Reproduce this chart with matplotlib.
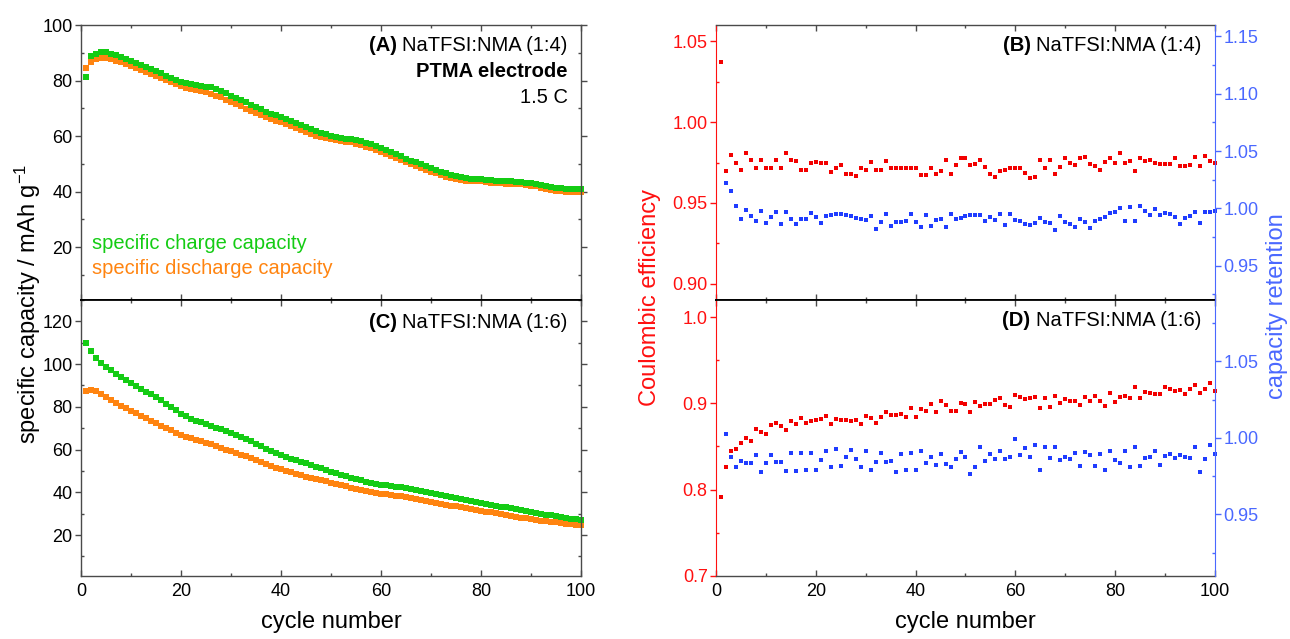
import matplotlib
matplotlib.use("Agg")
import matplotlib.pyplot as plt
from matplotlib.ticker import MultipleLocator, FormatStrFormatter

plt.rcParams['font.family'] = ['Liberation Sans', 'DejaVu Sans']
plt.rcParams['mathtext.fontset'] = 'custom'
plt.rcParams['mathtext.rm'] = 'Liberation Sans'
plt.rcParams['mathtext.it'] = 'Liberation Sans:italic'
plt.rcParams['mathtext.bf'] = 'Liberation Sans:bold'

# ---------------------------------------------------------------- data
cycles = list(range(1, 101))
ret_cycles = list(range(2, 101))

# (A) NaTFSI:NMA (1:4) specific capacity, mAh/g
a_charge = [81.4, 89.0, 89.4, 90.1, 90.1, 89.6, 89.2, 88.6, 87.9, 87.1,
            86.4, 85.7, 84.9, 84.1, 83.4, 82.6, 81.8, 81.0, 80.2, 79.5,
            79.0, 78.7, 78.4, 78.1, 77.8, 77.5, 77.0, 76.3, 75.5, 74.6,
            73.8, 72.9, 72.1, 71.3, 70.4, 69.6, 68.8, 68.1, 67.5, 66.9,
            66.2, 65.5, 64.8, 64.1, 63.4, 62.6, 61.9, 61.2, 60.6, 60.1,
            59.7, 59.4, 59.1, 58.8, 58.5, 58.1, 57.6, 57.0, 56.3, 55.7,
            55.0, 54.3, 53.5, 52.7, 51.9, 51.2, 50.5, 49.8, 49.1, 48.4,
            47.8, 47.2, 46.6, 46.1, 45.6, 45.2, 44.9, 44.7, 44.5, 44.4,
            44.3, 44.2, 44.0, 43.9, 43.8, 43.7, 43.6, 43.5, 43.3, 43.1,
            42.8, 42.5, 42.1, 41.8, 41.5, 41.3, 41.1, 41.0, 40.9, 40.9]
a_discharge = [84.4, 86.6, 87.6, 88.0, 88.0, 87.6, 87.2, 86.6, 86.0, 85.3,
               84.6, 83.9, 83.2, 82.5, 81.8, 81.0, 80.2, 79.4, 78.6, 77.9,
               77.3, 76.9, 76.5, 76.1, 75.7, 75.2, 74.6, 73.9, 73.1, 72.3,
               71.5, 70.7, 69.9, 69.1, 68.3, 67.5, 66.8, 66.2, 65.6, 65.0,
               64.3, 63.6, 62.9, 62.2, 61.5, 60.8, 60.2, 59.7, 59.3, 58.9,
               58.6, 58.3, 58.0, 57.7, 57.3, 56.8, 56.2, 55.6, 55.0, 54.4,
               53.7, 53.0, 52.2, 51.4, 50.6, 49.9, 49.2, 48.5, 47.8, 47.2,
               46.6, 46.0, 45.4, 44.9, 44.5, 44.2, 44.0, 43.9, 43.8, 43.7,
               43.5, 43.3, 43.1, 43.0, 42.9, 42.8, 42.7, 42.6, 42.4, 42.2,
               41.9, 41.5, 41.1, 40.7, 40.4, 40.2, 40.0, 39.9, 39.8, 39.7]

# (C) NaTFSI:NMA (1:6) specific capacity, mAh/g
c_charge = [110.1, 106.1, 102.8, 100.5, 98.7, 97.1, 95.6, 94.1, 92.6, 91.0,
            89.6, 88.3, 87.0, 85.8, 84.5, 83.0, 81.4, 79.8, 78.3, 76.8,
            75.5, 74.4, 73.5, 72.7, 71.9, 71.1, 70.3, 69.6, 68.8, 67.9,
            66.9, 65.9, 64.9, 63.9, 62.8, 61.6, 60.4, 59.3, 58.3, 57.4,
            56.6, 55.8, 55.0, 54.3, 53.6, 52.8, 52.0, 51.2, 50.4, 49.7,
            49.0, 48.3, 47.6, 46.9, 46.2, 45.6, 45.0, 44.5, 44.0, 43.6,
            43.3, 43.0, 42.7, 42.3, 41.9, 41.4, 41.0, 40.5, 40.0, 39.6,
            39.2, 38.7, 38.2, 37.7, 37.2, 36.8, 36.3, 35.8, 35.3, 34.9,
            34.5, 34.1, 33.7, 33.3, 33.0, 32.6, 32.2, 31.8, 31.4, 31.0,
            30.5, 30.1, 29.6, 29.2, 28.8, 28.4, 28.0, 27.6, 27.3, 27.0]
c_discharge = [87.4, 87.7, 87.2, 85.9, 84.5, 83.2, 81.9, 80.6, 79.4, 78.2,
               77.0, 75.8, 74.6, 73.4, 72.3, 71.2, 70.1, 69.0, 67.9, 66.9,
               66.0, 65.2, 64.5, 63.8, 63.1, 62.4, 61.6, 60.8, 60.0, 59.2,
               58.4, 57.6, 56.8, 56.0, 55.1, 54.2, 53.3, 52.4, 51.5, 50.7,
               50.0, 49.3, 48.7, 48.1, 47.4, 46.8, 46.2, 45.6, 45.1, 44.6,
               44.0, 43.4, 42.8, 42.2, 41.6, 41.0, 40.5, 40.0, 39.6, 39.3,
               39.1, 38.8, 38.5, 38.1, 37.7, 37.3, 36.9, 36.5, 36.0, 35.5,
               35.1, 34.7, 34.2, 33.8, 33.4, 33.0, 32.6, 32.2, 31.8, 31.4,
               31.0, 30.6, 30.2, 29.8, 29.4, 29.0, 28.6, 28.2, 27.8, 27.4,
               27.1, 26.8, 26.5, 26.2, 25.9, 25.6, 25.3, 25.0, 24.8, 24.6]

# (B) NaTFSI:NMA (1:4) Coulombic efficiency and capacity retention
b_ce = [1.037, 0.970, 0.9795, 0.9747, 0.9706, 0.9809, 0.9768, 0.9719, 0.9768, 0.9719,
        0.9719, 0.9764, 0.9719, 0.9809, 0.9764, 0.9758, 0.9706, 0.9706, 0.9747, 0.9754,
        0.9749, 0.9749, 0.9692, 0.9713, 0.9733, 0.9682, 0.9678, 0.9668, 0.9713, 0.9706,
        0.9754, 0.9706, 0.9706, 0.9760, 0.9713, 0.9713, 0.9713, 0.9717, 0.9713, 0.9719,
        0.9671, 0.9671, 0.9719, 0.9678, 0.9698, 0.9764, 0.9678, 0.9733, 0.9780, 0.9780,
        0.9733, 0.9743, 0.9768, 0.9723, 0.9682, 0.9661, 0.9698, 0.9706, 0.9713, 0.9717,
        0.9713, 0.9686, 0.9657, 0.9661, 0.9764, 0.9713, 0.9764, 0.9678, 0.9723, 0.9776,
        0.9747, 0.9733, 0.9780, 0.9784, 0.9739, 0.9729, 0.9706, 0.9754, 0.9776, 0.9747,
        0.9809, 0.9747, 0.9760, 0.9696, 0.9776, 0.9760, 0.9768, 0.9747, 0.9743, 0.9743,
        0.9743, 0.9780, 0.9729, 0.9729, 0.9733, 0.9784, 0.9729, 0.9788, 0.9760, 0.9747]
b_ret = [1.022, 1.0148, 1.002, 0.991, 0.9988, 0.993, 0.9887, 0.9974, 0.9872,
         0.9925, 0.9968, 0.9867, 0.9968, 0.991, 0.9867, 0.991, 0.991, 0.9959, 0.9925,
         0.9875, 0.993, 0.9945, 0.9948, 0.9948, 0.9942, 0.993, 0.9919, 0.991, 0.9896,
         0.9933, 0.9823, 0.9881, 0.9954, 0.9843, 0.9881, 0.9881, 0.989, 0.9954, 0.9881,
         0.9838, 0.9939, 0.9843, 0.9896, 0.9904, 0.9838, 0.9954, 0.991, 0.9916, 0.993,
         0.9939, 0.9945, 0.9939, 0.989, 0.9925, 0.9896, 0.9954, 0.9858, 0.9948, 0.9896,
         0.9887, 0.9861, 0.9852, 0.9872, 0.9916, 0.9881, 0.9872, 0.9809, 0.993, 0.9881,
         0.9867, 0.9838, 0.991, 0.9881, 0.9829, 0.989, 0.991, 0.9925, 0.9959, 0.9968,
         1.0006, 0.989, 1.0012, 0.989, 1.002, 0.9977, 0.9939, 0.9997, 0.9945, 0.9959,
         0.9954, 0.9925, 0.9867, 0.9919, 0.993, 0.9968, 0.9872, 0.9968, 0.9968, 0.9974]

# (D) NaTFSI:NMA (1:6) Coulombic efficiency and capacity retention
d_ce = [0.7915, 0.8262, 0.8442, 0.8469, 0.8546, 0.8596, 0.8569, 0.870, 0.8673, 0.8646,
        0.875, 0.8769, 0.8738, 0.8692, 0.880, 0.8762, 0.8827, 0.8777, 0.880, 0.8808,
        0.8815, 0.8854, 0.8762, 0.8815, 0.8808, 0.8808, 0.880, 0.8808, 0.8758, 0.8854,
        0.8827, 0.8777, 0.8838, 0.8896, 0.8865, 0.8865, 0.8877, 0.8838, 0.8942, 0.8846,
        0.8931, 0.8908, 0.8992, 0.8904, 0.9027, 0.8981, 0.8915, 0.8915, 0.9008, 0.8992,
        0.8904, 0.9019, 0.8969, 0.8988, 0.8992, 0.9038, 0.9058, 0.8981, 0.8962, 0.9096,
        0.9077, 0.905, 0.9058, 0.9069, 0.8942, 0.9058, 0.8962, 0.9085, 0.9008, 0.9046,
        0.9027, 0.9031, 0.8981, 0.9077, 0.9027, 0.9085, 0.9027, 0.8969, 0.9123, 0.9019,
        0.9069, 0.9085, 0.9058, 0.9185, 0.9058, 0.9135, 0.9123, 0.9108, 0.9108, 0.9192,
        0.9162, 0.9146, 0.9154, 0.9108, 0.9162, 0.9212, 0.9123, 0.9162, 0.9231, 0.9146]
d_ret = [1.0026, 0.9875, 0.9807, 0.9846, 0.9835, 0.9835, 0.989, 0.9776, 0.9835,
         0.989, 0.984, 0.984, 0.9785, 0.9899, 0.9785, 0.9899, 0.9789, 0.9903, 0.9791,
         0.9857, 0.9916, 0.9811, 0.9925, 0.9815, 0.9873, 0.9921, 0.9864, 0.9807, 0.9912,
         0.9789, 0.9842, 0.9899, 0.9842, 0.9846, 0.9774, 0.9895, 0.9793, 0.9899, 0.9789,
         0.9916, 0.9837, 0.9875, 0.9824, 0.9895, 0.9831, 0.9811, 0.986, 0.9908, 0.9877,
         0.9763, 0.9811, 0.9943, 0.9851, 0.9895, 0.986, 0.9916, 0.9864, 0.9877, 0.9991,
         0.9886, 0.9934, 0.9877, 0.9952, 0.9789, 0.9941, 0.9868, 0.9943, 0.9855, 0.9877,
         0.986, 0.9899, 0.9815, 0.9908, 0.989, 0.9815, 0.9895, 0.9793, 0.9912, 0.9857,
         0.9833, 0.9912, 0.9811, 0.9943, 0.9815, 0.9868, 0.9873, 0.9912, 0.982, 0.9879,
         0.9895, 0.9868, 0.989, 0.9877, 0.9868, 0.9943, 0.9776, 0.986, 0.9952, 0.9895]

# ---------------------------------------------------------------- style
GREEN = '#14cc14'
ORANGE = '#ff8410'
RED = '#f20000'
BLUE = '#1f3cff'
RED_AX = '#ff1010'
BLUE_AX = '#4a68ff'
SPINE = '#4a4a4a'
TICK_FS = 13
LABEL_FS = 17
NOTE_FS = 14.5

W, H = 1290, 639
fig = plt.figure(figsize=(W / 100, H / 100), dpi=100)


def box(x0, y0, x1, y1):
    return [x0 / W, 1 - y1 / H, (x1 - x0) / W, (y1 - y0) / H]


ax_a = fig.add_axes(box(81, 25, 581, 300))
ax_c = fig.add_axes(box(81, 300, 581, 575.7))
ax_b = fig.add_axes(box(716, 25, 1215, 300))
ax_d = fig.add_axes(box(716, 300, 1215, 575.7))
ax_b2 = ax_b.twinx()
ax_d2 = ax_d.twinx()


def style_x(ax, show_labels):
    ax.set_xlim(0, 100)
    ax.xaxis.set_major_locator(MultipleLocator(20))
    ax.xaxis.set_minor_locator(MultipleLocator(10))
    ax.tick_params(axis='x', which='major', direction='in', length=4, width=1,
                   top=True, bottom=True, color=SPINE, labelsize=TICK_FS, pad=5,
                   labelbottom=show_labels)
    ax.tick_params(axis='x', which='minor', direction='in', length=2.5, width=1,
                   top=True, bottom=True, color=SPINE)


def style_y(ax, side, color, label_color, major, minor, fmt=None):
    ax.yaxis.set_major_locator(MultipleLocator(major))
    ax.yaxis.set_minor_locator(MultipleLocator(minor))
    if fmt:
        ax.yaxis.set_major_formatter(FormatStrFormatter(fmt))
    left = side in ('left', 'both')
    right = side in ('right', 'both')
    ax.tick_params(axis='y', which='major', direction='out', length=4, width=1,
                   left=left, right=right, labelleft=left,
                   labelright=(side == 'right'), color=color,
                   labelcolor=label_color, labelsize=TICK_FS, pad=2)
    ax.tick_params(axis='y', which='minor', direction='in', length=2.5, width=1,
                   left=left, right=right, color=color)


for ax in (ax_a, ax_c):
    for s in ax.spines.values():
        s.set_color(SPINE)
        s.set_linewidth(1.0)

mk = dict(marker='s', linestyle='none', markeredgewidth=0, clip_on=False)

# (A)
ax_a.plot(cycles, a_discharge, color=ORANGE, markersize=3.8, **mk)
ax_a.plot(cycles, a_charge, color=GREEN, markersize=3.8, **mk)
ax_a.set_ylim(1, 100)
style_x(ax_a, False)
style_y(ax_a, 'both', SPINE, 'black', 20, 10)
ax_a.spines['bottom'].set_color('black')
ax_a.spines['bottom'].set_linewidth(1.3)

# (C)
ax_c.plot(cycles, c_discharge, color=ORANGE, markersize=3.8, **mk)
ax_c.plot(cycles, c_charge, color=GREEN, markersize=3.8, **mk)
ax_c.set_ylim(1, 130)
style_x(ax_c, True)
style_y(ax_c, 'both', SPINE, 'black', 20, 10)
ax_c.spines['top'].set_color('black')
ax_c.spines['top'].set_linewidth(1.3)
ax_c.set_xlabel('cycle number', fontsize=LABEL_FS, labelpad=8)


def style_pair(ax, ax2, sep_side):
    ax.spines['left'].set_color(RED_AX)
    ax.spines['right'].set_visible(False)
    for s in ('top', 'bottom'):
        ax.spines[s].set_color(SPINE)
        ax.spines[s].set_linewidth(1.0)
    ax.spines[sep_side].set_color('black')
    ax.spines[sep_side].set_linewidth(1.3)
    ax2.spines['right'].set_color(BLUE_AX)
    for s in ('left', 'top', 'bottom'):
        ax2.spines[s].set_visible(False)


# (B)
ax_b.plot(cycles, b_ce, color=RED, markersize=3.5, **mk)
ax_b2.plot(ret_cycles, b_ret, color=BLUE, markersize=3.5, **mk)
ax_b.set_ylim(0.89, 1.06)
ax_b2.set_ylim(0.92, 1.16)
style_x(ax_b, False)
style_y(ax_b, 'left', RED_AX, RED_AX, 0.05, 0.025, '%.2f')
style_y(ax_b2, 'right', BLUE_AX, BLUE_AX, 0.05, 0.025, '%.2f')
ax_b2.tick_params(axis='x', which='both', top=False, bottom=False)
style_pair(ax_b, ax_b2, 'bottom')

# (D)
ax_d.plot(cycles, d_ce, color=RED, markersize=3.5, **mk)
ax_d2.plot(ret_cycles, d_ret, color=BLUE, markersize=3.5, **mk)
ax_d.set_ylim(0.7, 1.02)
ax_d2.set_ylim(0.91, 1.09)
style_x(ax_d, True)
style_y(ax_d, 'left', RED_AX, RED_AX, 0.1, 0.05, '%.1f')
style_y(ax_d2, 'right', BLUE_AX, BLUE_AX, 0.05, 0.025, '%.2f')
style_pair(ax_d, ax_d2, 'top')
ax_d.set_xlabel('cycle number', fontsize=LABEL_FS, labelpad=8)
for ax in (ax_b2, ax_d2):
    ax.set_xlim(0, 100)

# ---------------------------------------------------------------- annotations


def panel_title(ax, y, tag, text):
    t = ax.text(0.973, y, text, transform=ax.transAxes, ha='right', va='center',
                fontsize=NOTE_FS, color='black', zorder=5)
    ax.annotate(tag, xy=(0, 0), xycoords=t, xytext=(-4, 0),
                textcoords='offset points', ha='right', va='bottom',
                fontsize=NOTE_FS, fontweight='bold', color='black', zorder=5)


panel_title(ax_a, 0.925, '(A)', 'NaTFSI:NMA (1:4)')
ax_a.text(0.973, 0.830, 'PTMA electrode', transform=ax_a.transAxes, ha='right',
          va='center', fontsize=NOTE_FS, fontweight='bold')
ax_a.text(0.973, 0.737, '1.5 C', transform=ax_a.transAxes, ha='right',
          va='center', fontsize=NOTE_FS)
ax_a.text(0.021, 0.207, 'specific charge capacity', transform=ax_a.transAxes,
          ha='left', va='center', fontsize=NOTE_FS, color=GREEN)
ax_a.text(0.021, 0.116, 'specific discharge capacity', transform=ax_a.transAxes,
          ha='left', va='center', fontsize=NOTE_FS, color=ORANGE)

panel_title(ax_c, 0.920, '(C)', 'NaTFSI:NMA (1:6)')
panel_title(ax_b2, 0.925, '(B)', 'NaTFSI:NMA (1:4)')
panel_title(ax_d2, 0.926, '(D)', 'NaTFSI:NMA (1:6)')

fig.text(28 / W, 1 - 304 / H, r'specific capacity / mAh g$^{\mathrm{-1}}$',
         rotation=90, ha='center', va='center', fontsize=LABEL_FS)
fig.text(650 / W, 1 - 297 / H, 'Coulombic efficiency', rotation=90,
         ha='center', va='center', fontsize=LABEL_FS, color=RED_AX)
fig.text(1277 / W, 1 - 306 / H, 'capacity retention', rotation=90,
         ha='center', va='center', fontsize=LABEL_FS, color=BLUE_AX)

fig.savefig('out.png', dpi=100)
